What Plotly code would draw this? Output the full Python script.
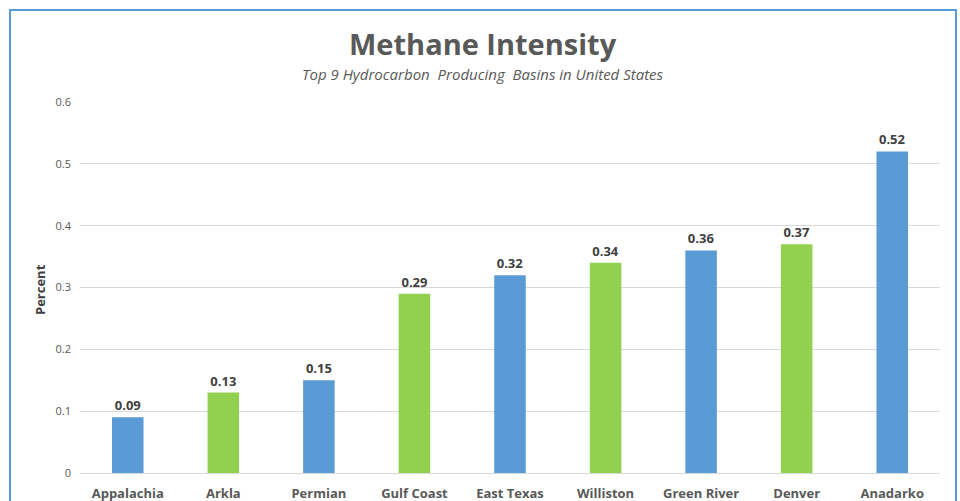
import plotly.graph_objects as go

basins = ["Appalachia", "Arkla", "Permian", "Gulf Coast", "East Texas",
          "Williston", "Green River", "Denver", "Anadarko"]
intensity = [0.09, 0.13, 0.15, 0.29, 0.32, 0.34, 0.36, 0.37, 0.52]
bar_colors = ["#5B9BD5", "#92D050", "#5B9BD5", "#92D050", "#5B9BD5",
              "#92D050", "#5B9BD5", "#92D050", "#5B9BD5"]
y_ticks = [0, 0.1, 0.2, 0.3, 0.4, 0.5, 0.6]
y_tick_text = ["0", "0.1", "0.2", "0.3", "0.4", "0.5", "0.6"]

FONT = "Open Sans, Liberation Sans, sans-serif"

fig = go.Figure(go.Bar(
    x=basins, y=intensity,
    marker=dict(color=bar_colors, line=dict(width=0)),
    text=[f"{v:.2f}" for v in intensity],
    textposition="outside",
    textfont=dict(family=FONT, size=13, color="#404040", weight="bold"),
    cliponaxis=False,
))

L, R, T, B = 80, 20, 102, 28
W, H = 960, 501
pw, ph = W - L - R, H - T - B

def px_x(px):
    return (px - L) / pw

def px_y(py):
    return (H - B - py) / ph

fig.update_layout(
    width=W, height=H,
    margin=dict(l=L, r=R, t=T, b=B),
    paper_bgcolor="white", plot_bgcolor="white",
    bargap=0.67,
    showlegend=False,
    font=dict(family=FONT, color="#595959"),
    xaxis=dict(
        showgrid=False, showline=False, ticks="", automargin=False,
        tickfont=dict(family=FONT, size=13, color="#595959", weight="bold"),
        ticklabelstandoff=11,
    ),
    yaxis=dict(
        range=[0, 0.6], tickvals=y_ticks, ticktext=y_tick_text, automargin=False,
        showgrid=True, gridcolor="#D9D9D9", gridwidth=1,
        zeroline=True, zerolinecolor="#D9D9D9", zerolinewidth=1,
        showline=False, ticks="",
        tickfont=dict(family=FONT, size=11, color="#595959"),
        ticklabelstandoff=8,
    ),
    shapes=[dict(
        type="rect", xref="paper", yref="paper",
        x0=px_x(10), x1=px_x(956), y0=px_y(520), y1=px_y(10),
        line=dict(color="#5B9BD5", width=2), fillcolor="rgba(0,0,0,0)",
        layer="below",
    )],
    annotations=[
        dict(text="<b>Methane Intensity</b>", xref="paper", yref="paper",
             x=px_x(483), y=px_y(44), xanchor="center", yanchor="middle",
             showarrow=False, font=dict(family=FONT, size=29, color="#595959")),
        dict(text="<i>Top 9 Hydrocarbon  Producing  Basins in United States</i>",
             xref="paper", yref="paper",
             x=px_x(483), y=px_y(74), xanchor="center", yanchor="middle",
             showarrow=False, font=dict(family=FONT, size=15, color="#595959")),
        dict(text="<b>Percent</b>", xref="paper", yref="paper",
             x=px_x(40), y=px_y(290), xanchor="center", yanchor="middle",
             textangle=-90, showarrow=False,
             font=dict(family=FONT, size=13, color="#404040")),
    ],
)

fig.write_html("out.html")
